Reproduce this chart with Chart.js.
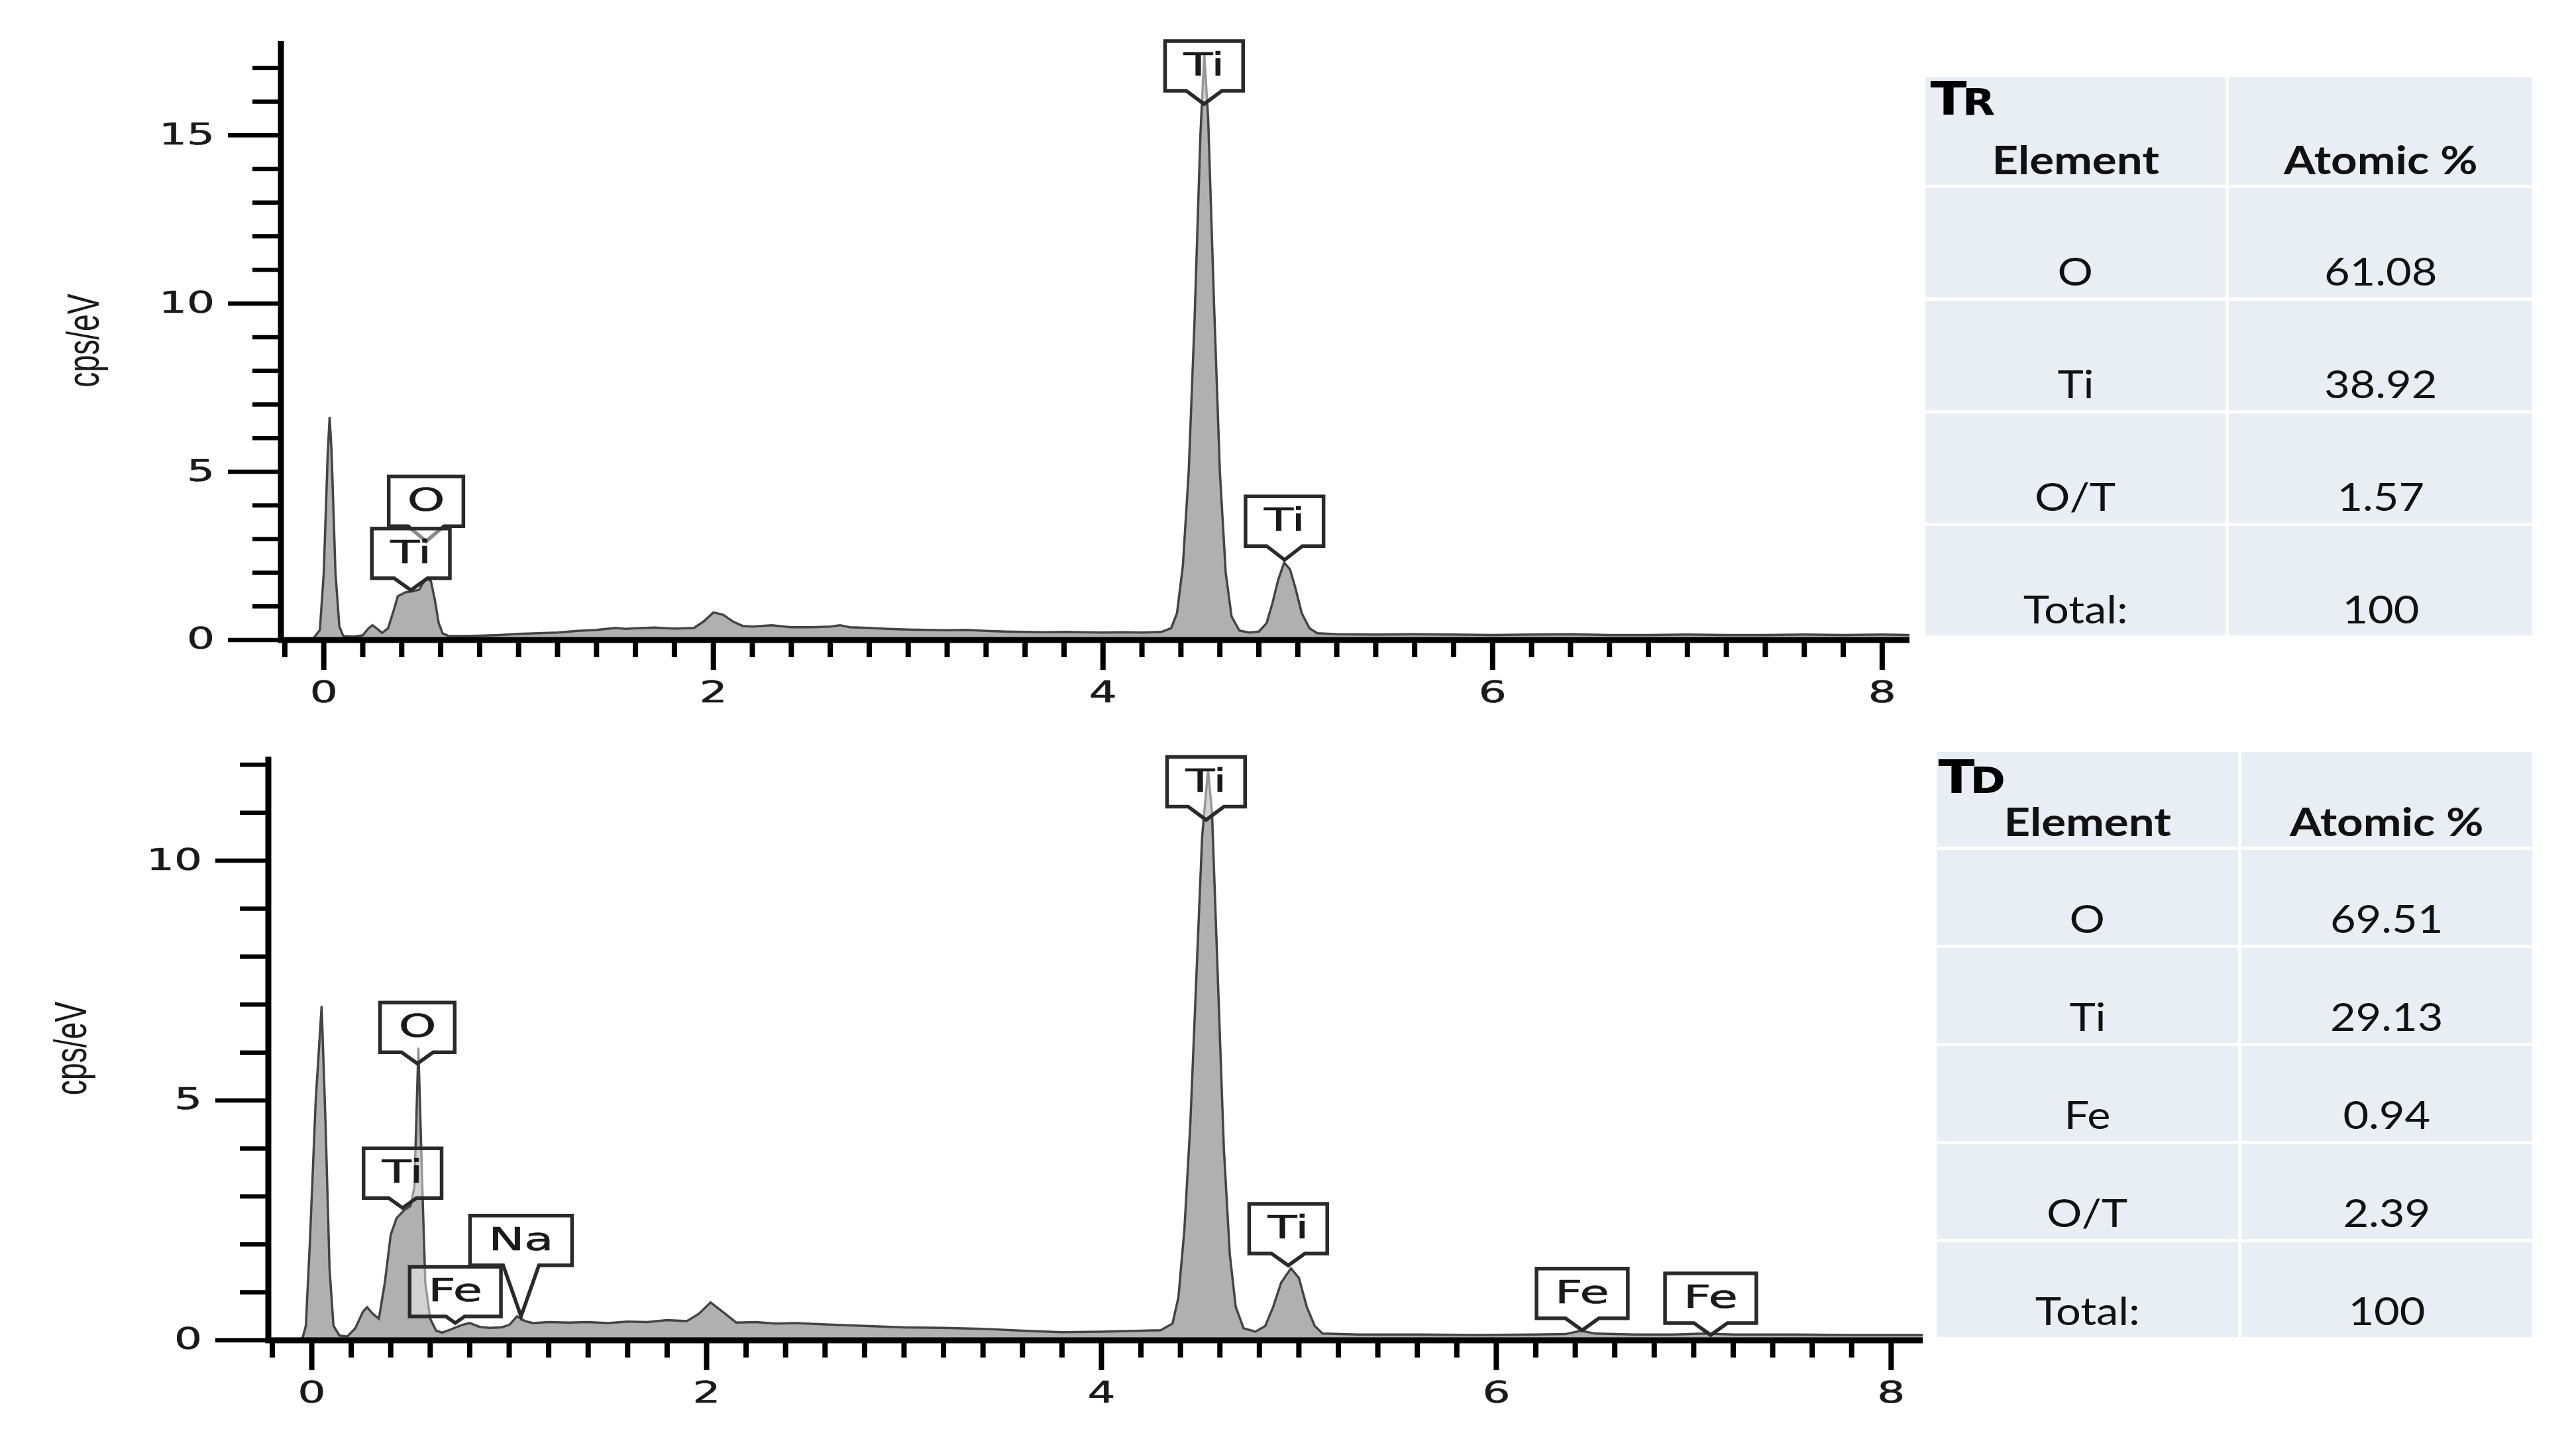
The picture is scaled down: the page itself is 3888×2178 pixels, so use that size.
<!DOCTYPE html>
<html>
<head>
<meta charset="utf-8">
<script src="https://cdn.jsdelivr.net/npm/chart.js@4.4.0/dist/chart.umd.min.js"></script>
<style>
body { margin: 0; background: #fff; width: 3888px; height: 2178px; position: relative; overflow: hidden; font-family: Lato, "Open Sans", sans-serif; }
canvas { position: absolute; left: 0; }
#trChart { top: 0; }
#tdChart { top: 1090px; }
.tbl { position: absolute; display: grid; gap: 5px; background: #fff; }
.cell { background: #e9edf4; display: flex; justify-content: center; align-items: flex-end; box-sizing: border-box; padding-bottom: 11px; font-size: 58px; line-height: 1; color: #111; position: relative; }
.cell span { display: inline-block; transform: scaleX(1.15); }
.cell.head { font-weight: bold; font-size: 60px; padding-bottom: 9px; }
.tag { position: absolute; font-family: "DejaVu Sans", sans-serif; font-weight: bold; line-height: 1; color: #000; white-space: nowrap; }
.tag .big { font-size: 70px; }
.tag .small { font-size: 56px; }
</style>
</head>
<body>
<canvas id="trChart" width="2960" height="1090"></canvas>
<canvas id="tdChart" width="2960" height="1088"></canvas>
<div id="trTable" class="tbl"></div>
<div id="tdTable" class="tbl"></div>
<script>
// TR spectrum (keV, cps/eV)
const trEnergy = [-0.06, -0.02, 0.00, 0.02, 0.03, 0.04, 0.06, 0.08, 0.10, 0.15, 0.20, 0.23, 0.25, 0.27, 0.30, 0.33, 0.36, 0.38, 0.42, 0.46, 0.49, 0.51, 0.53, 0.55, 0.57, 0.59, 0.61, 0.64,
  0.70, 0.80, 0.90, 1.00, 1.10, 1.20, 1.30, 1.40, 1.50, 1.55, 1.60, 1.70, 1.80, 1.90, 1.95, 2.00, 2.05, 2.10, 2.15, 2.20, 2.30, 2.40, 2.50, 2.60, 2.65, 2.70, 2.80, 2.90,
  3.00, 3.10, 3.20, 3.30, 3.40, 3.50, 3.60, 3.70, 3.80, 3.90, 4.00, 4.10, 4.20, 4.30, 4.35, 4.38, 4.41, 4.44, 4.47, 4.50, 4.52, 4.54, 4.57, 4.60, 4.63, 4.66, 4.70,
  4.75, 4.80, 4.84, 4.87, 4.90, 4.93, 4.96, 4.99, 5.02, 5.06, 5.10, 5.20, 5.40, 5.60, 5.80, 6.00, 6.20, 6.40, 6.60, 6.80, 7.00, 7.20, 7.40, 7.60, 7.80, 8.00, 8.14];
const trCounts = [0, 0.3, 2.0, 5.5, 6.63, 5.6, 2.0, 0.4, 0.12, 0.1, 0.14, 0.35, 0.44, 0.35, 0.21, 0.35, 0.9, 1.3, 1.42, 1.45, 1.5, 1.7, 1.82, 1.75, 1.2, 0.5, 0.2, 0.12,
  0.12, 0.13, 0.15, 0.18, 0.2, 0.22, 0.27, 0.3, 0.36, 0.33, 0.35, 0.37, 0.34, 0.36, 0.55, 0.82, 0.75, 0.55, 0.42, 0.4, 0.44, 0.38, 0.38, 0.4, 0.44, 0.38, 0.36, 0.33,
  0.31, 0.3, 0.29, 0.3, 0.27, 0.25, 0.24, 0.23, 0.24, 0.23, 0.22, 0.23, 0.22, 0.24, 0.35, 0.8, 2.2, 5.0, 9.5, 15.0, 17.4, 15.5, 10.0, 5.0, 2.0, 0.7, 0.28,
  0.22, 0.25, 0.5, 1.1, 1.8, 2.3, 2.1, 1.5, 0.8, 0.35, 0.2, 0.17, 0.16, 0.17, 0.16, 0.15, 0.16, 0.17, 0.15, 0.15, 0.16, 0.15, 0.15, 0.16, 0.15, 0.16, 0.15];

// TD spectrum (keV, cps/eV)
const tdEnergy = [-0.05, -0.03, -0.01, 0.02, 0.05, 0.07, 0.09, 0.11, 0.14, 0.18, 0.22, 0.26, 0.28, 0.31, 0.34, 0.37, 0.40, 0.43, 0.47, 0.50, 0.52, 0.54, 0.56, 0.575, 0.60, 0.63, 0.66,
  0.70, 0.76, 0.80, 0.85, 0.90, 0.96, 1.00, 1.04, 1.08, 1.12, 1.20, 1.30, 1.40, 1.50, 1.60, 1.70, 1.80, 1.90, 1.96, 2.02, 2.08, 2.15, 2.25, 2.35, 2.45, 2.60, 2.80,
  3.00, 3.20, 3.40, 3.60, 3.80, 4.00, 4.20, 4.30, 4.36, 4.39, 4.42, 4.45, 4.48, 4.51, 4.54, 4.56, 4.59, 4.62, 4.65, 4.68, 4.72, 4.78, 4.83, 4.87, 4.91, 4.96, 5.00,
  5.04, 5.08, 5.12, 5.30, 5.60, 5.90, 6.20, 6.35, 6.43, 6.50, 6.70, 6.90, 7.06, 7.20, 7.50, 7.80, 8.16];
const tdCounts = [0, 0.3, 2.0, 5.0, 6.97, 4.5, 1.5, 0.3, 0.1, 0.08, 0.25, 0.6, 0.69, 0.55, 0.45, 1.2, 2.2, 2.55, 2.72, 2.8, 3.2, 6.1, 3.2, 1.2, 0.45, 0.2, 0.16,
  0.22, 0.32, 0.36, 0.28, 0.26, 0.27, 0.32, 0.5, 0.4, 0.36, 0.38, 0.37, 0.38, 0.36, 0.39, 0.38, 0.42, 0.4, 0.55, 0.79, 0.6, 0.37, 0.38, 0.35, 0.36, 0.33, 0.3,
  0.27, 0.26, 0.24, 0.2, 0.17, 0.18, 0.2, 0.21, 0.35, 0.9, 2.3, 4.5, 7.5, 10.5, 11.9, 11.0, 7.5, 4.0, 1.8, 0.7, 0.25, 0.18, 0.3, 0.7, 1.2, 1.5, 1.3,
  0.7, 0.3, 0.14, 0.12, 0.12, 0.11, 0.12, 0.13, 0.2, 0.14, 0.12, 0.12, 0.14, 0.12, 0.12, 0.11, 0.11];

const xTickLabels = [0, 2, 4, 6, 8];
const trYTickLabels = [0, 5, 10, 15];
const tdYTickLabels = [0, 5, 10];

// peak markers: element, energy, height the pointer reaches
const trPeakNames = ['O', 'Ti', 'Ti', 'Ti'];
const trPeakKeV = [0.525, 0.447, 4.519, 4.932];
const trPeakCps = [2.93, 1.48, 15.93, 2.38];
const tdPeakNames = ['O', 'Ti', 'Fe', 'Na', 'Ti', 'Ti', 'Fe', 'Fe'];
const tdPeakKeV = [0.535, 0.46, 0.727, 1.06, 4.53, 4.946, 6.435, 7.086];
const tdPeakCps = [5.77, 2.76, 0.36, 0.50, 10.85, 1.56, 0.21, 0.11];

// tables
const trElements = ['O', 'Ti', 'O/T', 'Total:'];
const trAtomic = ['61.08', '38.92', '1.57', '100'];
const tdElements = ['O', 'Ti', 'Fe', 'O/T', 'Total:'];
const tdAtomic = ['69.51', '29.13', '0.94', '2.39', '100'];

// pointer lengths in px (layout only)
const trTails = [23, 18, 20, 21];
const tdTails = [17, 15, 10, 77, 20, 18, 18, 18];

const TICK_FONT = '44px "DejaVu Sans"';
const TAG_FONT = '48px "DejaVu Sans"';

function stretchedText(ctx, text, x, y, sx, align, thick) {
    ctx.save();
    ctx.translate(x, y);
    ctx.scale(sx, 1);
    ctx.textAlign = align;
    ctx.textBaseline = 'middle';
    ctx.fillText(text, 0, 0);
    if (thick) {
        ctx.lineWidth = thick;
        ctx.strokeStyle = ctx.fillStyle;
        ctx.lineJoin = 'round';
        ctx.strokeText(text, 0, 0);
    }
    ctx.restore();
}

function drawTag(ctx, cx, tipY, text, tail) {
    ctx.font = TAG_FONT;
    const w = ctx.measureText(text).width * 1.5 + 56;
    const h = 75;
    const bottom = tipY - tail;
    const top = bottom - h;
    const l = cx - w / 2, r = cx + w / 2;
    const half = Math.min(27, tail * 1.4);
    ctx.beginPath();
    ctx.moveTo(cx - half, bottom);
    ctx.lineTo(l, bottom);
    ctx.lineTo(l, top);
    ctx.lineTo(r, top);
    ctx.lineTo(r, bottom);
    ctx.lineTo(cx + half, bottom);
    ctx.lineTo(cx, tipY);
    ctx.closePath();
    ctx.fillStyle = 'rgba(255,255,255,0.45)';
    ctx.fill();
    ctx.lineWidth = 5.5;
    ctx.strokeStyle = '#2a2a2a';
    ctx.lineJoin = 'miter';
    ctx.stroke();
    ctx.fillStyle = '#1a1a1a';
    stretchedText(ctx, text, cx, (top + bottom) / 2 + 2, 1.5, 'center', 0.7);
}

const edsDecor = {
    id: 'edsDecor',
    afterDatasetsDraw(chart, args, o) {
        const { ctx, chartArea: a, scales: { x, y } } = chart;
        const y0 = y.getPixelForValue(0);
        ctx.save();
        ctx.strokeStyle = '#000';
        ctx.fillStyle = '#1a1a1a';

        // axis lines
        ctx.lineWidth = 9;
        ctx.beginPath();
        ctx.moveTo(a.left, a.top);
        ctx.lineTo(a.left, y0 + 4.5);
        ctx.moveTo(a.left - 4.5, y0);
        ctx.lineTo(a.right, y0);
        ctx.stroke();

        // y ticks
        ctx.lineWidth = 6.5;
        for (let v = 0; v <= o.yMinorMax; v++) {
            const py = y.getPixelForValue(v);
            const len = o.yTicks.includes(v) ? 80 : 43;
            ctx.beginPath();
            ctx.moveTo(a.left - len, py);
            ctx.lineTo(a.left, py);
            ctx.stroke();
        }
        ctx.font = TICK_FONT;
        o.yTicks.forEach(v => stretchedText(ctx, String(v), a.left - 100, y.getPixelForValue(v) + 2, 1.5, 'right', 0.6));

        // x ticks every 0.2 keV
        ctx.lineWidth = 8;
        for (let i = -1; i <= 40; i++) {
            const v = i / 5;
            const px = x.getPixelForValue(v);
            const len = o.xTicks.includes(v) ? 45 : 26;
            ctx.beginPath();
            ctx.moveTo(px, y0 + 3);
            ctx.lineTo(px, y0 + len);
            ctx.stroke();
        }
        o.xTicks.forEach(v => stretchedText(ctx, String(v), x.getPixelForValue(v), y0 + 83, 1.5, 'center', 0.6));

        // axis title
        ctx.save();
        ctx.translate(a.left - 294, (a.top + y0) / 2);
        ctx.rotate(-Math.PI / 2);
        ctx.scale(0.68, 1);
        ctx.font = '68px "Liberation Sans"';
        ctx.fillStyle = '#1a1a1a';
        ctx.textAlign = 'center';
        ctx.textBaseline = 'middle';
        ctx.fillText(o.title, 0, 0);
        ctx.restore();

        // peak tags
        o.names.forEach((n, i) => drawTag(ctx, x.getPixelForValue(o.keV[i]), y.getPixelForValue(o.cps[i]), n, o.tails[i]));
        ctx.restore();
    }
};

function makeSpectrum(id, energy, counts, cfg) {
    return new Chart(document.getElementById(id), {
        type: 'line',
        data: {
            datasets: [{
                data: energy.map((e, i) => ({ x: e, y: counts[i] })),
                borderColor: '#444',
                borderWidth: 3.5,
                backgroundColor: '#b0b0b0',
                fill: 'origin',
                pointRadius: 0,
                tension: 0,
            }],
        },
        options: {
            responsive: false,
            animation: false,
            devicePixelRatio: 1,
            layout: { padding: cfg.padding },
            scales: {
                x: { type: 'linear', min: cfg.xMin, max: cfg.xMax, display: false },
                y: { type: 'linear', min: 0, max: cfg.yMax, display: false },
            },
            plugins: {
                legend: { display: false },
                tooltip: { enabled: false },
                edsDecor: cfg.decor,
            },
        },
        plugins: [edsDecor],
    });
}

makeSpectrum('trChart', trEnergy, trCounts, {
    padding: { left: 424, top: 62, right: 78, bottom: 124 },
    xMin: -0.22, xMax: 8.14, yMax: 17.8,
    decor: { title: 'cps/eV', yTicks: trYTickLabels, yMinorMax: 17, xTicks: xTickLabels,
        names: trPeakNames, keV: trPeakKeV, cps: trPeakCps, tails: trTails },
});

makeSpectrum('tdChart', tdEnergy, tdCounts, {
    padding: { left: 405, top: 52, right: 58, bottom: 155 },
    xMin: -0.22, xMax: 8.16, yMax: 12.17,
    decor: { title: 'cps/eV', yTicks: tdYTickLabels, yMinorMax: 12, xTicks: xTickLabels,
        names: tdPeakNames, keV: tdPeakKeV, cps: tdPeakCps, tails: tdTails },
});

function buildTable(id, tag, sub, elements, values, box) {
    const t = document.getElementById(id);
    Object.assign(t.style, { left: box.left + 'px', top: box.top + 'px' });
    t.style.gridTemplateColumns = box.cols;
    t.style.gridTemplateRows = box.head + 'px' + (' ' + box.row + 'px').repeat(elements.length);
    const head1 = document.createElement('div');
    head1.className = 'cell head';
    head1.innerHTML = '<div class="tag" style="left:' + box.tagLeft + 'px;top:' + box.tagTop + 'px"><span class="big">' + tag +
        '</span><span class="small">' + sub + '</span></div><span>Element</span>';
    t.appendChild(head1);
    const head2 = document.createElement('div');
    head2.className = 'cell head';
    head2.innerHTML = '<span>Atomic %</span>';
    t.appendChild(head2);
    elements.forEach((el, i) => {
        [el, values[i]].forEach(txt => {
            const c = document.createElement('div');
            c.className = 'cell';
            const s = document.createElement('span');
            s.textContent = txt;
            c.appendChild(s);
            t.appendChild(c);
        });
    });
}

buildTable('trTable', 'T', 'R', trElements, trAtomic,
    { left: 2906, top: 116, cols: '453px 458px', head: 163, row: 165, tagLeft: 11, tagTop: -2 });
buildTable('tdTable', 'T', 'D', tdElements, tdAtomic,
    { left: 2923, top: 1135, cols: '455px 439px', head: 143, row: 143, tagLeft: 6, tagTop: 3 });
</script>
</body>
</html>
